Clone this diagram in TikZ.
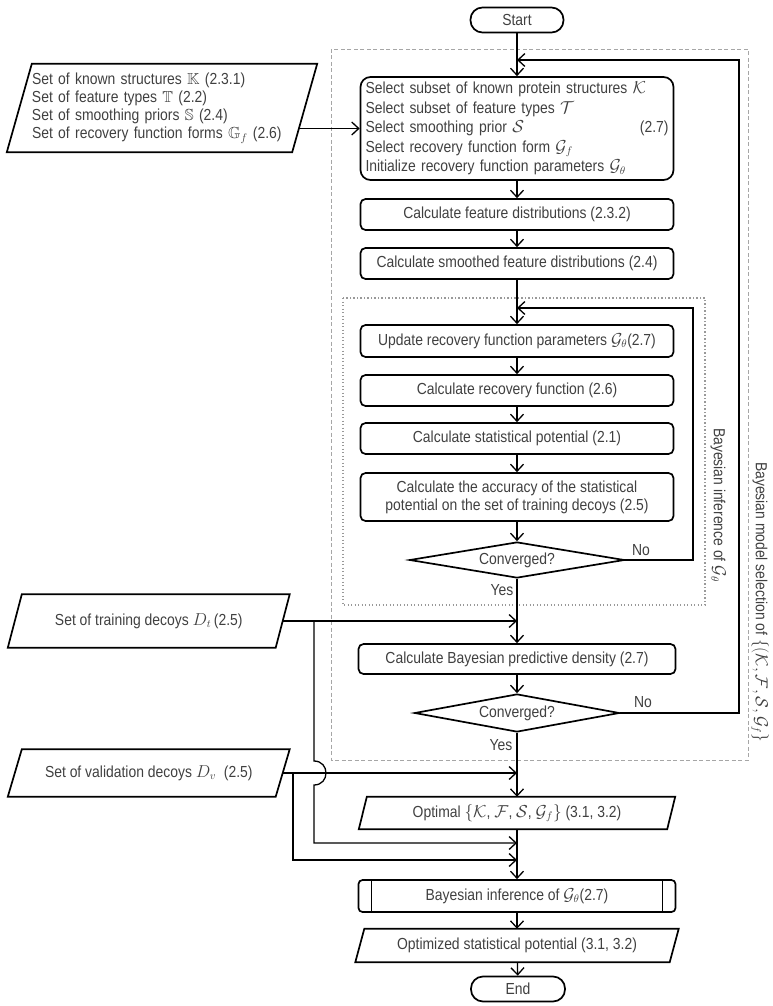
\documentclass[tikz,border=0pt]{standalone}
\usepackage{amssymb}
\usepackage{fontspec}
\setmainfont{Liberation Sans}[FakeStretch=0.87]
\usetikzlibrary{arrows.meta,shapes.geometric,calc}
\newcommand{\drawpara}[2]{%
  \draw[bline] ([xshift=#2pt]#1.north west) -- ([xshift=#2pt]#1.north east) --
    ([xshift=-#2pt]#1.south east) -- ([xshift=-#2pt]#1.south west) -- cycle;}
\begin{document}
\begin{tikzpicture}[x=1pt,y=-1pt,
  every node/.style={font=\fontsize{16}{18.2}\selectfont, text=black!75},
  bline/.style={draw=black, line width=1.7pt, line join=miter},
  box/.style={draw=black, line width=1.7pt, rectangle, rounded corners=5pt,
    minimum width=313pt, minimum height=31pt, inner sep=0pt, align=center},
  term/.style={draw=black, line width=1.7pt, rectangle, rounded corners=12pt,
    minimum width=93pt, minimum height=25pt, inner sep=0pt},
  dia/.style={draw=black, line width=1.7pt, diamond, aspect=6, inner sep=0pt},
  ptext/.style={inner sep=0pt, align=center},
  ln/.style={draw=black, line width=1.3pt},
  arr/.style={draw=black, line width=1.3pt,
    -{Straight Barb[length=7pt,width=13pt,line width=1.3pt]}},
  outerbox/.style={draw=black!35, line width=0.8pt, dash pattern=on 4pt off 2.5pt},
  innerbox/.style={draw=black!40, line width=1.4pt, dash pattern=on 1.2pt off 2.3pt},
  lbl/.style={inner sep=0pt}
]
\useasboundingbox (0,0) rectangle (772,1006);

% frames
\draw[outerbox] (331,49) rectangle (748,760);
\draw[innerbox] (343,298) rectangle (705,605);

% main column
\node[term] (start) at (517,20) {Start};
\node[box, minimum height=103pt, rounded corners=10pt, text width=303pt, align=left,
      font=\fontsize{16}{19.5}\selectfont] (sel) at (517,128.5)
  {Select subset of known protein structures $\mathcal{K}$\\
   Select subset of feature types $\mathcal{T}$\\
   Select smoothing prior $\mathcal{S}$\hspace*{\fill}(2.7)\hspace*{20pt}\\
   Select recovery function form $\mathcal{G}_f$\\
   Initialize recovery function parameters $\mathcal{G}_\theta$};
\node[box] (feat) at (517,214.5) {Calculate feature distributions (2.3.2)};
\node[box] (smooth) at (517,263.5) {Calculate smoothed feature distributions (2.4)};
\node[box, minimum height=32pt] (upd) at (517,341) {Update recovery function parameters $\mathcal{G}_\theta$(2.7)};
\node[box] (rec) at (517,390.5) {Calculate recovery function (2.6)};
\node[box] (stat) at (517,438.5) {Calculate statistical potential (2.1)};
\node[box, minimum height=48pt] (acc) at (517,497) {Calculate the accuracy of the statistical\\potential on the set of training decoys (2.5)};
\node[dia, minimum width=215pt, minimum height=36pt] (c1) at (517,560) {Converged?};
\node[box, minimum width=317pt, minimum height=30pt] (bpd) at (517,659) {Calculate Bayesian predictive density (2.7)};
\node[dia, minimum width=205pt, minimum height=38pt] (c2) at (517,713) {Converged?};
\node[ptext, minimum width=308pt, minimum height=32pt] (opt) at (517,813)
  {Optimal $\{\mathcal{K}$, $\mathcal{F}$, $\mathcal{S}$, $\mathcal{G}_f\}$ (3.1, 3.2)};
\drawpara{opt}{4}
\node[box, minimum width=317pt, minimum height=32pt, rounded corners=4pt] (bin) at (517,896)
  {Bayesian inference of $\mathcal{G}_\theta$(2.7)};
\draw[ln] ([xshift=14pt]bin.north west) -- ([xshift=14pt]bin.south west);
\draw[ln] ([xshift=-14pt]bin.north east) -- ([xshift=-14pt]bin.south east);
\node[ptext, minimum width=314pt, minimum height=33pt] (optd) at (517,945.5)
  {Optimized statistical potential (3.1, 3.2)};
\drawpara{optd}{4.5}
\node[term, minimum width=94pt] (end) at (518,989) {End};

% inputs
\node[ptext, minimum width=285pt, minimum height=88pt, text width=260pt, align=left] (sets) at (162,108)
  {Set of known structures $\mathbb{K}$ (2.3.1)\\
   Set of feature types $\mathbb{T}$ (2.2)\\
   Set of smoothing priors $\mathbb{S}$ (2.4)\\
   Set of recovery function forms $\mathbb{G}_f$ (2.6)\\[-4pt]};
\drawpara{sets}{12.5}
\node[ptext, minimum width=267.5pt, minimum height=53pt] (tr) at (148.75,621)
  {Set of training decoys $D_t$\,(2.5)};
\drawpara{tr}{7}
\node[ptext, minimum width=267.5pt, minimum height=47pt] (va) at (148.75,773)
  {Set of validation decoys $D_v$\ \ (2.5)};
\drawpara{va}{7}

% labels of the frames
\node[lbl, rotate=-90] (lin) at (718,505) {Bayesian inference of $\mathcal{G}_\theta$};
\node[lbl, rotate=-90] (lout) at (760,602) {Bayesian model selection of $\{(\mathcal{K},\mathcal{F},\mathcal{S},\mathcal{G}_f\}$};

% coordinates
\coordinate (s1) at (298.5,128.5);
\coordinate (j1) at (517,308);
\coordinate (r1) at (693,308);
\coordinate (j2) at (517,60);
\coordinate (r2) at (739,60);
\coordinate (j3) at (517,621);
\coordinate (b1) at (314,621);
\coordinate (h1) at (314,761);
\coordinate (h2) at (314,785);
\coordinate (k1) at (314,843);
\coordinate (j5) at (517,843);
\coordinate (j4) at (517,773);
\coordinate (b2) at (293,773);
\coordinate (k2) at (293,860);
\coordinate (j6) at (517,860);

% main flow
\draw[arr] (start) -- (sel);
\draw[arr] (sel) -- (feat);
\draw[arr] (feat) -- (smooth);
\draw[arr] (smooth) -- (upd);
\draw[arr] (upd) -- (rec);
\draw[arr] (rec) -- (stat);
\draw[arr] (stat) -- (acc);
\draw[arr] (acc) -- (c1);
\draw[arr] (c1) -- (bpd);
\draw[arr] (bpd) -- (c2);
\draw[arr] (c2) -- (opt);
\draw[arr] (opt) -- (bin);
\draw[arr] (bin) -- (optd);
\draw[arr] (optd) -- (end);

% loops
\draw[arr] (c1.east) -| (r1) -- (j1);
\draw[arr] (c2.east) -| (r2) -- (j2);
\node[lbl] at (641,550) {No};
\node[lbl] at (643,702) {No};
\node[lbl] at (502,590) {Yes};
\node[lbl] at (501,745) {Yes};

% inputs
\draw[arr] (s1) -- (sel.west);
\draw[arr] (tr.east) -- (j3);
\draw[arr] (b1) -- (h1) .. controls (330,761) and (330,785) .. (h2) -- (k1) -- (j5);
\draw[arr] (va.east) -- (j4);
\draw[arr] (b2) -- (k2) -- (j6);
\end{tikzpicture}
\end{document}
